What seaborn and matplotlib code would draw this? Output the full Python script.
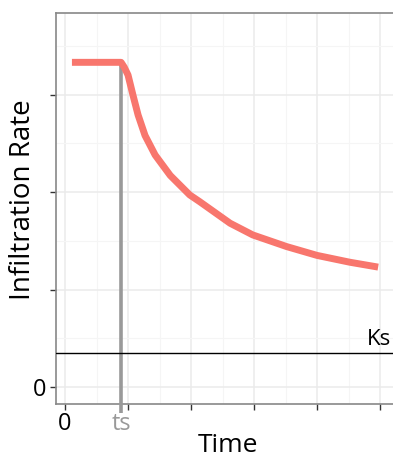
import matplotlib
matplotlib.use("Agg")
import matplotlib.pyplot as plt
import seaborn as sns
import pandas as pd
from matplotlib.ticker import MultipleLocator, FixedLocator

# data
time = [0.11, 0.89, 0.94, 1.00, 1.08, 1.16, 1.27, 1.43, 1.67, 1.98, 2.14,
        2.62, 2.98, 3.52, 4.00, 4.52, 4.97]
rate = [3.33, 3.33, 3.28, 3.20, 2.99, 2.79, 2.58, 2.38, 2.17, 1.97, 1.90,
        1.68, 1.56, 1.44, 1.35, 1.28, 1.23]
ts = 0.89
ks = 0.35
ks_label_x = 4.98

sns.set_theme(style="whitegrid")
plt.rcParams['font.family'] = ['Open Sans', 'DejaVu Sans']

fig = plt.figure(figsize=(3.93, 4.59), dpi=100)
ax = fig.add_axes([56/393, 55/459, 344/393, 391/459])

df = pd.DataFrame({"Time": time, "Rate": rate})

ax.set_xlim(-0.143, 5.317)
ax.set_ylim(-0.174, 3.836)

# grid
ax.xaxis.set_major_locator(FixedLocator([0, 1, 2, 3, 4, 5]))
ax.yaxis.set_major_locator(FixedLocator([0, 1, 2, 3]))
ax.xaxis.set_minor_locator(MultipleLocator(0.5))
ax.yaxis.set_minor_locator(MultipleLocator(0.5))
ax.grid(which="major", color="#EBEBEB", linewidth=1.1)
ax.grid(which="minor", color="#F5F5F5", linewidth=0.8)
ax.set_axisbelow(True)
ax.set_facecolor("white")

# ts vertical line
ax.plot([ts, ts], [-0.267, 3.33], color="#999999", linewidth=2.6,
        clip_on=False, zorder=3, solid_capstyle="butt")

# curve
sns.lineplot(data=df, x="Time", y="Rate", ax=ax, color="#F8766D",
             linewidth=5.0, zorder=4, sort=False)
ax.lines[-1].set_solid_capstyle("butt")
ax.lines[-1].set_solid_joinstyle("round")

# Ks line
ax.axhline(ks, color="black", linewidth=1.0, zorder=3)
ax.text(ks_label_x, ks + 0.03, "Ks", ha="center", va="bottom",
        fontsize=16, color="black")

# ticks
ax.set_xticklabels(["0", "", "", "", "", ""])
ax.set_yticklabels(["0", "", "", ""])
ax.tick_params(axis="both", which="major", length=4, width=1,
               color="#333333", labelsize=17, labelcolor="black",
               bottom=True, left=True)
ax.tick_params(axis="x", which="major", pad=2)
ax.tick_params(axis="y", which="major", pad=3)
ax.tick_params(which="minor", length=0)

ax.annotate("ts", xy=(ts, 0), xycoords=("data", "axes fraction"),
            xytext=(0, -6), textcoords="offset points", ha="center", va="top",
            fontsize=17, color="#999999", annotation_clip=False)

ax.set_xlabel("")
fig.text(228/393, 1/459, "Time", ha="center", va="bottom",
         fontsize=19, color="black")
ax.set_ylabel("Infiltration Rate", fontsize=20, color="black")
ax.yaxis.set_label_coords(-0.056, 0.522)

for side in ["left", "top", "bottom"]:
    ax.spines[side].set_color("#888888")
    ax.spines[side].set_linewidth(1.2)
ax.spines["right"].set_visible(False)

fig.savefig("out.png", dpi=100)
